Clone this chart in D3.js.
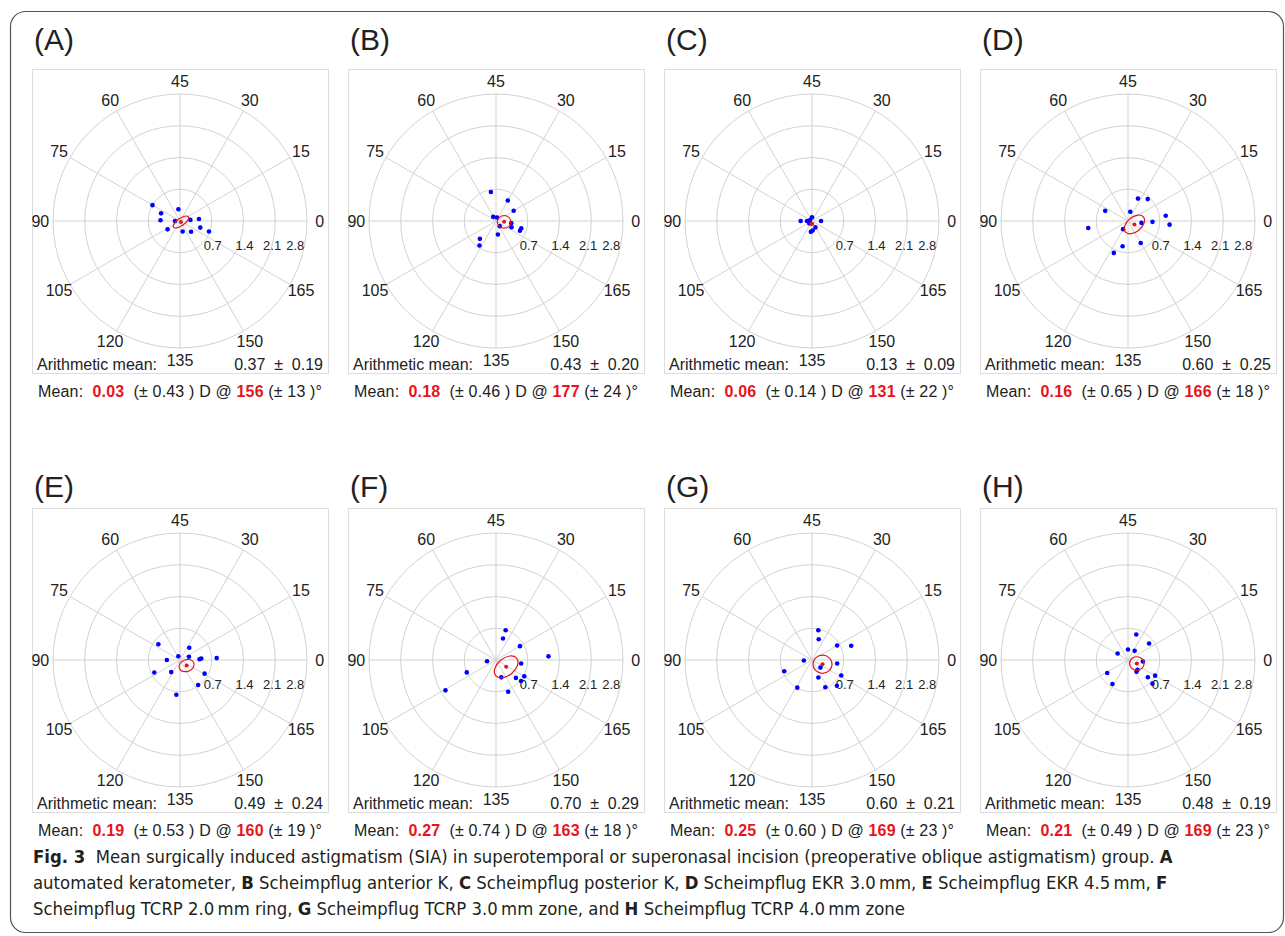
<!DOCTYPE html>
<html>
<head>
<meta charset="utf-8">
<script src="https://cdn.jsdelivr.net/npm/d3@7"></script>
<style>
  body { margin: 0; background: #fff; }
  svg text { white-space: pre; }
</style>
</head>
<body>
<div id="chart"></div>
<script>
// Double-angle plots of surgically induced astigmatism, 8 panels

var panelLabels = ["A", "B", "C", "D", "E", "F", "G", "H"];

// individual eyes: magnitude (D) and axis (deg)
var magnitudes = [
  [0.70, 0.45, 0.43, 0.26, 0.11, 0.33, 0.24, 0.34, 0.23, 0.42, 0.47, 0.68],
  [0.65, 0.52, 0.45, 0.11, 0.08, 0.34, 0.37, 0.58, 0.57, 0.14, 0.30, 0.53, 0.65],
  [0.25, 0.11, 0.08, 0.20, 0.16, 0.21, 0.24, 0.08, 0.05],
  [0.54, 0.65, 0.55, 0.21, 0.84, 0.92, 0.54, 0.30, 0.89, 0.21, 0.56, 0.57, 0.77],
  [0.59, 0.34, 0.09, 0.21, 0.29, 0.43, 0.47, 0.81, 0.63, 0.33, 0.62, 0.68, 0.77],
  [0.69, 0.50, 0.61, 1.16, 0.20, 0.56, 0.70, 0.40, 0.59, 0.72, 0.72, 0.75, 1.30],
  [0.67, 0.48, 0.64, 0.92, 0.18, 0.56, 0.25, 0.66, 0.73, 0.41, 0.67, 0.79, 0.69],
  [0.59, 0.59, 0.27, 0.23, 0.25, 0.33, 0.30, 0.32, 0.58, 0.69, 0.75, 0.54, 0.63]
];
var axes = [
  [75, 79, 89, 49, 90, 107, 142, 158, 3, 3, 171, 170],
  [50, 30, 15, 62, 37, 176, 169, 172, 169, 153, 139, 114, 118],
  [90, 90, 45, 0, 149, 137, 132, 111, 81],
  [33, 24, 78, 38, 4, 177.5, 179, 176, 95, 119.5, 150, 129, 123],
  [72, 26.5, 57, 10, 90, 1, 2, 1.5, 103, 117, 165.5, 153, 132],
  [36, 36, 15, 2, 94, 176, 101.5, 143.5, 159, 165, 160, 145.5, 105.5],
  [39, 36, 15, 10, 92, 176, 159, 101, 166, 145, 148, 157, 121],
  [36, 19, 74, 45, 27, 177, 157, 153, 159.5, 165, 158, 106, 118.5]
];

// centroid
var meanMag   = [0.03, 0.18, 0.06, 0.16, 0.19, 0.27, 0.25, 0.21];
var meanMagSD = [0.43, 0.46, 0.14, 0.65, 0.53, 0.74, 0.60, 0.49];
var meanAxis  = [156, 177, 131, 166, 160, 163, 169, 169];
var meanAxisSD = [13, 24, 22, 18, 19, 18, 23, 23];
var arithMean = [0.37, 0.43, 0.13, 0.60, 0.49, 0.70, 0.60, 0.48];
var arithSD   = [0.19, 0.20, 0.09, 0.25, 0.24, 0.29, 0.21, 0.19];

// confidence ellipse of the centroid (semi axes in D, tilt in plot degrees)
var ellMajor = [0.20, 0.15, 0.04, 0.26, 0.17, 0.30, 0.21, 0.16];
var ellMinor = [0.08, 0.14, 0.03, 0.16, 0.13, 0.19, 0.20, 0.15];
var ellTilt  = [35, 0, 0, 40, 20, 40, 0, 0];

var angleTicks = d3.range(0, 180, 15);
var ringTicks = [0.7, 1.4, 2.1, 2.8];

var captionLines = [
  [["Fig. 3", true], ["  Mean surgically induced astigmatism (SIA) in superotemporal or superonasal incision (preoperative oblique astigmatism) group. ", false], ["A", true]],
  [["automated keratometer, ", false], ["B", true], [" Scheimpflug anterior K, ", false], ["C", true], [" Scheimpflug posterior K, ", false], ["D", true], [" Scheimpflug EKR 3.0\u2009mm, ", false], ["E", true], [" Scheimpflug EKR 4.5\u2009mm, ", false], ["F", true]],
  [["Scheimpflug TCRP 2.0\u2009mm ring, ", false], ["G", true], [" Scheimpflug TCRP 3.0\u2009mm zone, and ", false], ["H", true], [" Scheimpflug TCRP 4.0\u2009mm zone", false]]
];

var W = 1285, H = 936;
var boxW = 296, boxH = 304, R = 127;
var rowTop = [69, 508], titleY = [50, 497];
var font = "'Liberation Sans', Arial, sans-serif";
var red = "#e8141b";

var svg = d3.select("#chart").append("svg")
    .attr("width", W)
    .attr("height", H);

// figure frame
svg.append("rect")
    .attr("x", 10.5).attr("y", 11.5)
    .attr("width", W - 12).attr("height", 921)
    .attr("rx", 15)
    .attr("fill", "none")
    .attr("stroke", "#555")
    .attr("stroke-width", 1.2);

var r = d3.scaleLinear().domain([0, 2.8]).range([0, R]);

function polar(m, ax) {
  var a = 2 * ax * Math.PI / 180;
  return [r(m) * Math.cos(a), -r(m) * Math.sin(a)];
}

panelLabels.forEach(function(lab, i) {
  var col = i % 4, row = Math.floor(i / 4);
  var left = 32 + col * 316, top = rowTop[row];
  var cx = left + boxW / 2, cy = top + boxH / 2;

  svg.append("text")
      .attr("x", left + 2).attr("y", titleY[row])
      .style("font-family", font).style("font-size", "30px")
      .style("fill", "#222")
      .text("(" + lab + ")");

  svg.append("rect")
      .attr("x", left + 0.5).attr("y", top + 0.5)
      .attr("width", boxW).attr("height", boxH)
      .attr("fill", "none")
      .attr("stroke", "#ddd");

  var g = svg.append("g")
      .attr("transform", "translate(" + cx + "," + cy + ")");

  // grid
  g.selectAll(".ring").data(ringTicks).enter().append("circle")
      .attr("r", function(d) { return r(d); })
      .attr("fill", "none")
      .attr("stroke", "#d2d2d2");

  g.selectAll(".spoke").data(angleTicks).enter().append("line")
      .attr("x1", 0).attr("y1", 0)
      .attr("x2", function(d) { return polar(2.8, d)[0]; })
      .attr("y2", function(d) { return polar(2.8, d)[1]; })
      .attr("stroke", "#d2d2d2");

  g.selectAll(".alab").data(angleTicks).enter().append("text")
      .attr("x", function(d) { return polar(3.08, d)[0]; })
      .attr("y", function(d) { return polar(3.08, d)[1]; })
      .attr("text-anchor", "middle")
      .attr("dominant-baseline", "central")
      .style("font-family", font).style("font-size", "16px")
      .style("fill", "#222")
      .text(function(d) { return d; });

  g.selectAll(".rlab").data(ringTicks).enter().append("text")
      .attr("x", function(d) { return r(d) + 1 - Math.max(0, r(d) - 80) * 0.27; })
      .attr("y", 24)
      .attr("text-anchor", "middle")
      .attr("dominant-baseline", "central")
      .style("font-family", font).style("font-size", "13px")
      .style("fill", "#222")
      .text(function(d) { return d.toFixed(1); });

  // eyes
  var pts = magnitudes[i].map(function(m, k) { return polar(m, axes[i][k]); });
  g.selectAll(".pt").data(pts).enter().append("circle")
      .attr("cx", function(d) { return d[0]; })
      .attr("cy", function(d) { return d[1]; })
      .attr("r", 2.3)
      .attr("fill", "#0000ff");

  // centroid + ellipse
  var mp = polar(meanMag[i], meanAxis[i]);
  g.append("ellipse")
      .attr("transform", "translate(" + mp[0] + "," + mp[1] + ") rotate(" + (-ellTilt[i]) + ")")
      .attr("rx", r(ellMajor[i]))
      .attr("ry", r(ellMinor[i]))
      .attr("fill", "none")
      .attr("stroke", red)
      .attr("stroke-width", 1.2);
  g.append("circle")
      .attr("cx", mp[0]).attr("cy", mp[1])
      .attr("r", 2)
      .attr("fill", red);

  // arithmetic mean
  svg.append("text")
      .attr("x", left + 5).attr("y", top + boxH - 3)
      .style("font-family", font).style("font-size", "16px")
      .style("fill", "#222")
      .text("Arithmetic mean:");
  svg.append("text")
      .attr("x", left + boxW - 5).attr("y", top + boxH - 3)
      .attr("text-anchor", "end")
      .style("font-family", font).style("font-size", "16px")
      .style("fill", "#222")
      .text(arithMean[i].toFixed(2) + "  \u00b1  " + arithSD[i].toFixed(2));

  // vector mean line
  var t = svg.append("text")
      .attr("x", left + 6).attr("y", top + boxH + 24)
      .attr("textLength", boxW - 12)
      .attr("lengthAdjust", "spacing")
      .style("font-family", font).style("font-size", "16px")
      .style("fill", "#222");
  t.append("tspan").text("Mean:  ");
  t.append("tspan").style("fill", red).style("font-weight", "bold").text(meanMag[i].toFixed(2));
  t.append("tspan").text("  (\u00b1 " + meanMagSD[i].toFixed(2) + " ) D @ ");
  t.append("tspan").style("fill", red).style("font-weight", "bold").text(meanAxis[i]);
  t.append("tspan").text(" (\u00b1 " + meanAxisSD[i] + " )\u00b0");
});

// caption
var capFont = "'DejaVu Sans Condensed', 'Liberation Sans Narrow', 'Liberation Sans', sans-serif";
var capY = [863, 889, 915];
var capX = 33;

function addLine(line, y) {
  var t = svg.append("text")
      .attr("x", capX).attr("y", y)
      .style("font-family", capFont).style("font-size", "17px")
      .style("fill", "#231f20");
  line.forEach(function(seg) {
    t.append("tspan")
        .style("font-weight", seg[1] ? "bold" : "normal")
        .text(seg[0]);
  });
  return t;
}

// reference width: the text up to "or s" of line 1 spans to x = 640
var probe = addLine([["Fig. 3", true], ["  Mean surgically induced astigmatism (SIA) in superotemporal or s", false]], -100);
var ratio = (640 - capX) / probe.node().getComputedTextLength();
probe.remove();

captionLines.forEach(function(line, li) {
  var t = addLine(line, capY[li]);
  var natural = t.node().getComputedTextLength();
  t.attr("textLength", natural * ratio)
   .attr("lengthAdjust", "spacingAndGlyphs");
});
</script>
</body>
</html>
